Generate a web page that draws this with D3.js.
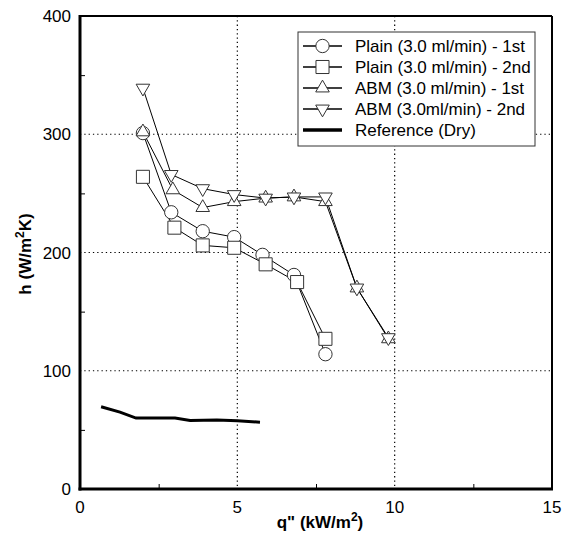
<!DOCTYPE html>
<html>
<head>
<meta charset="utf-8">
<script src="https://cdn.jsdelivr.net/npm/d3@7"></script>
<style>
  body { margin: 0; background: #fff; }
  text { font-family: "Liberation Sans", Arial, sans-serif; }
</style>
</head>
<body>
<svg width="563" height="538"></svg>
<script>
// values
var plain1X = [2, 2.9, 3.9, 4.9, 5.8, 6.8, 7.8];
var plain1Y = [301, 234, 218, 213, 198, 181, 114];
var plain2X = [2, 3, 3.9, 4.9, 5.9, 6.9, 7.8];
var plain2Y = [264, 221, 206, 204, 190, 175, 127];
var abm1X = [2, 2.95, 3.9, 4.9, 5.9, 6.8, 7.8, 8.8, 9.8];
var abm1Y = [302, 253, 238, 243, 246, 247, 243, 170, 127];
var abm2X = [2, 2.9, 3.9, 4.9, 5.9, 6.8, 7.8, 8.8, 9.8];
var abm2Y = [339, 266, 254, 249, 246, 247, 247, 170, 128];
var refX = [0.67, 1.27, 1.78, 3.02, 3.5, 4.35, 5.0, 5.72];
var refY = [69.6, 65, 60, 60, 58, 58.4, 57.8, 56.5];

var legendLabels = ["Plain (3.0 ml/min) - 1st", "Plain (3.0 ml/min) - 2nd",
  "ABM (3.0 ml/min) - 1st", "ABM (3.0ml/min) - 2nd", "Reference (Dry)"];
var xTicks = [0, 5, 10, 15];
var yTicks = [0, 100, 200, 300, 400];

var svg = d3.select("svg");
var margin = {top: 16, right: 11, bottom: 49, left: 80};
var width = +svg.attr("width") - margin.left - margin.right;
var height = +svg.attr("height") - margin.top - margin.bottom;

var g = svg.append("g")
  .attr("transform", "translate(" + margin.left + "," + margin.top + ")");

var x = d3.scaleLinear().domain([0, 15]).range([0, width]);
var y = d3.scaleLinear().domain([0, 400]).range([height, 0]);

// dotted grid
g.selectAll(".gx").data([5, 10]).enter().append("line")
  .attr("x1", function(d) { return x(d); }).attr("x2", function(d) { return x(d); })
  .attr("y1", 0).attr("y2", height)
  .attr("stroke", "#000").attr("stroke-width", 1.2).attr("stroke-dasharray", "1.3,3");
g.selectAll(".gy").data([100, 200, 300]).enter().append("line")
  .attr("y1", function(d) { return y(d); }).attr("y2", function(d) { return y(d); })
  .attr("x1", 0).attr("x2", width)
  .attr("stroke", "#000").attr("stroke-width", 1.2).attr("stroke-dasharray", "1.3,3");

// axes with inner ticks
var xAxis = d3.axisBottom(x).tickValues([2.5, 7.5, 12.5]).tickSize(-5).tickFormat("");
var yAxis = d3.axisLeft(y).tickValues([50, 150, 250, 350]).tickSize(-5).tickFormat("");
var axX = g.append("g").attr("transform", "translate(0," + height + ")").call(xAxis);
var axY = g.append("g").call(yAxis);
[axX, axY].forEach(function(a) {
  a.select(".domain").remove();
  a.selectAll("line").attr("stroke", "#000").attr("stroke-width", 1);
});

g.selectAll(".xl").data(xTicks).enter().append("text")
  .attr("x", function(d) { return x(d); }).attr("y", height + 24)
  .attr("text-anchor", "middle").attr("font-size", 17).text(function(d) { return d; });
g.selectAll(".yl").data(yTicks).enter().append("text")
  .attr("x", -9).attr("y", function(d) { return y(d) + 6; })
  .attr("text-anchor", "end").attr("font-size", 17).text(function(d) { return d; });

// frame
g.append("line").attr("x1", 0).attr("x2", width).attr("y1", 0).attr("y2", 0)
  .attr("stroke", "#000").attr("stroke-width", 2);
g.append("line").attr("x1", width).attr("x2", width).attr("y1", 0).attr("y2", height)
  .attr("stroke", "#000").attr("stroke-width", 2);
g.append("line").attr("x1", 0).attr("x2", 0).attr("y1", -1).attr("y2", height + 1.5)
  .attr("stroke", "#000").attr("stroke-width", 3);
g.append("line").attr("x1", -1.5).attr("x2", width + 1).attr("y1", height).attr("y2", height)
  .attr("stroke", "#000").attr("stroke-width", 3);

// titles
var xt = svg.append("text").attr("x", 320).attr("y", 528)
  .attr("text-anchor", "middle").attr("font-size", 17).attr("font-weight", "bold");
xt.append("tspan").text("q\" (kW/m");
xt.append("tspan").attr("dy", -7).attr("font-size", 12).text("2");
xt.append("tspan").attr("dy", 7).text(")");

var yt = svg.append("text").attr("transform", "translate(31,254) rotate(-90)")
  .attr("text-anchor", "middle").attr("font-size", 17).attr("font-weight", "bold");
yt.append("tspan").text("h (W/m");
yt.append("tspan").attr("dy", -7).attr("font-size", 12).text("2");
yt.append("tspan").attr("dy", 7).text("K)");

var line = d3.line()
  .x(function(d) { return x(d[0]); })
  .y(function(d) { return y(d[1]); });

var series = [
  {xs: plain1X, ys: plain1Y, sym: d3.symbolCircle, size: 140, rot: 0},
  {xs: plain2X, ys: plain2Y, sym: d3.symbolSquare, size: 170, rot: 0},
  {xs: abm1X, ys: abm1Y, sym: d3.symbolTriangle, size: 80, rot: 0},
  {xs: abm2X, ys: abm2Y, sym: d3.symbolTriangle, size: 80, rot: 180}
];

// reference line
g.append("path").datum(d3.zip(refX, refY)).attr("d", line)
  .attr("fill", "none").attr("stroke", "#000").attr("stroke-width", 3);

series.forEach(function(s) {
  var pts = d3.zip(s.xs, s.ys);
  g.append("path").datum(pts).attr("d", line)
    .attr("fill", "none").attr("stroke", "#000").attr("stroke-width", 1);
});
series.forEach(function(s) {
  var pts = d3.zip(s.xs, s.ys);
  g.selectAll(null).data(pts).enter().append("path")
    .attr("d", d3.symbol().type(s.sym).size(s.size))
    .attr("transform", function(d) {
      return "translate(" + x(d[0]) + "," + y(d[1]) + ") rotate(" + s.rot + ")";
    })
    .attr("fill", "#fff").attr("stroke", "#333").attr("stroke-width", 1);
});

// legend
var lg = svg.append("g").attr("transform", "translate(298,32)");
lg.append("rect").attr("width", 237).attr("height", 114)
  .attr("fill", "#fff").attr("stroke", "#333").attr("stroke-width", 1);
legendLabels.forEach(function(lab, i) {
  var yy = 14 + i * 21;
  lg.append("line").attr("x1", 5).attr("x2", 44).attr("y1", yy).attr("y2", yy)
    .attr("stroke", "#000").attr("stroke-width", i === 4 ? 3.5 : 1.5);
  if (i < 4) {
    var s = series[i];
    lg.append("path").attr("d", d3.symbol().type(s.sym).size(s.size))
      .attr("transform", "translate(24.5," + yy + ") rotate(" + s.rot + ")")
      .attr("fill", "#fff").attr("stroke", "#333").attr("stroke-width", 1);
  }
  lg.append("text").attr("x", 57).attr("y", yy + 6).attr("font-size", 17).text(lab);
});
</script>
</body>
</html>
